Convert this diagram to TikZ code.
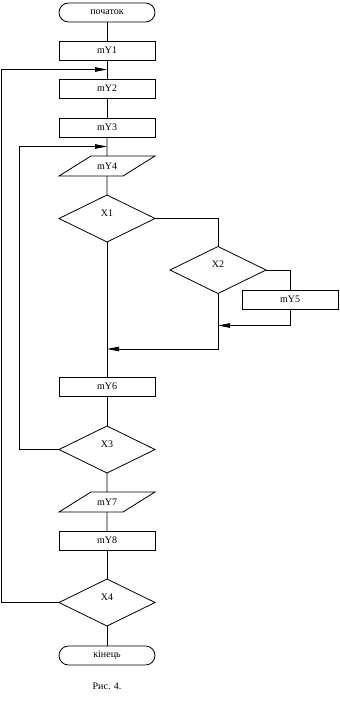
\documentclass[tikz,border=0pt]{standalone}
\usepackage{fontspec}
\setmainfont{Liberation Serif}
\usetikzlibrary{shapes.geometric, arrows.meta, positioning, calc}

\begin{document}
\begin{tikzpicture}[
    node distance=19pt,
    font=\fontsize{10}{12}\selectfont,
    base/.style={draw=black, line width=0.8pt, align=center, fill=white, inner sep=0pt, outer sep=0pt},
    proc/.style={base, rectangle, minimum width=96pt, minimum height=19pt},
    term/.style={base, rectangle, rounded corners=9.5pt, minimum width=96pt, minimum height=19pt},
    io/.style={base, trapezium, trapezium left angle=32, trapezium right angle=148, trapezium stretches body, minimum width=96pt, text height=13.5pt, text depth=6.5pt},
    dia/.style={base, diamond, minimum width=96pt, minimum height=47pt, text height=7pt, text depth=12pt},
    line/.style={line width=0.8pt},
    arr/.style={line, -{Triangle[length=12pt, width=4.5pt]}}
]
\useasboundingbox (0,0) rectangle (340pt,-707pt);

% 1. Main column
\node[term] (start) at (107pt,-12.5pt) {початок};
\node[proc, below=of start] (mY1) {mY1};
\node[proc, below=of mY1] (mY2) {mY2};
\node[proc, below=20pt of mY2] (mY3) {mY3};
\node[io, below=of mY3] (mY4) {mY4};
\node[dia, below=of mY4] (X1) {X1};

% 2. Right branch
\node[dia, on grid, below right=51.5pt and 111pt of X1] (X2) {X2};
\node[proc, on grid, below right=29.5pt and 72pt of X2] (mY5) {mY5};

% 3. Lower column
\node[proc, below=135pt of X1] (mY6) {mY6};
\node[dia, below=30pt of mY6] (X3) {X3};
\node[io, below=of X3] (mY7) {mY7};
\node[proc, below=of mY7] (mY8) {mY8};
\node[dia, below=29pt of mY8] (X4) {X4};
\node[term, below=20pt of X4] (end) {кінець};
\node[below=18pt of end, inner sep=0pt] (cap) {Рис. 4.};

% Junction points
\path (mY1) -- coordinate[midway] (j1) (mY2);
\path (mY3) -- coordinate[midway] (j2) (mY4);
\coordinate (j3) at ($(X2.south)+(0,-32pt)$);
\coordinate (j4) at ($(X1.south)+(0,-107pt)$);

% Connections
\draw[line] (start) -- (mY1);
\draw[line] (mY1) -- (mY2);
\draw[line] (mY2) -- (mY3);
\draw[line] (mY3) -- (mY4);
\draw[line] (mY4) -- (X1);
\draw[line] (X1) -- (mY6);
\draw[line] (mY6) -- (X3);
\draw[line] (X3) -- (mY7);
\draw[line] (mY7) -- (mY8);
\draw[line] (mY8) -- (X4);
\draw[line] (X4) -- (end);

\draw[line] (X1.east) -| (X2.north);
\draw[line] (X2.east) -| (mY5.north);
\draw[arr] (mY5.south) |- (j3);
\draw[arr] (X2.south) |- (j4);

\draw[arr] (X3.west) -- ++(-40pt,0) |- (j2);
\draw[arr] (X4.west) -- ++(-58pt,0) |- (j1);

\end{tikzpicture}
\end{document}
